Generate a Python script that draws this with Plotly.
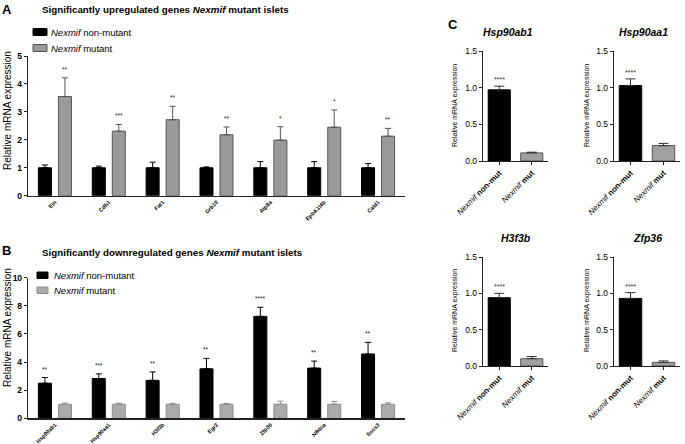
import plotly.graph_objects as go

W, H = 685, 444
FONT = "Arial, Liberation Sans, sans-serif"

# ---------------- data ----------------
up_genes = ["Eln", "Cdh1", "Fat1", "Grb10", "Atp8a", "Epb4.1l4b", "Cald1"]
up_ctrl = [1.0, 1.0, 1.0, 1.0, 1.0, 1.0, 1.0]
up_ctrl_err = [0.10, 0.06, 0.20, 0.03, 0.22, 0.22, 0.15]
up_mut = [3.55, 2.31, 2.72, 2.18, 1.99, 2.45, 2.13]
up_mut_err = [0.67, 0.24, 0.48, 0.28, 0.48, 0.62, 0.28]
up_sig = ["**", "***", "**", "**", "*", "*", "**"]

down_genes = ["Hsp90ab1", "Hsp90aa1", "H3f3b", "Egr2", "Zfp36", "Nfkbia", "Socs3"]
down_ctrl = [2.50, 2.83, 2.70, 3.52, 7.25, 3.57, 4.57]
down_ctrl_err = [0.40, 0.33, 0.60, 0.74, 0.65, 0.50, 0.83]
down_mut = [1.0, 1.0, 1.0, 1.0, 1.0, 1.0, 1.0]
down_mut_err = [0.08, 0.07, 0.07, 0.05, 0.22, 0.20, 0.10]
down_sig = ["**", "***", "**", "**", "****", "**", "**"]

c_genes = ["Hsp90ab1", "Hsp90aa1", "H3f3b", "Zfp36"]
c_groups = ["<i>Nexmif</i> <b>non-mut</b>", "<i>Nexmif</i> <b>mut</b>"]
c_ctrl = [0.97, 1.03, 0.94, 0.93]
c_ctrl_err = [0.05, 0.09, 0.06, 0.08]
c_mut = [0.11, 0.21, 0.10, 0.05]
c_mut_err = [0.01, 0.03, 0.03, 0.02]
c_sig = ["****", "****", "****", "****"]


def px(x):
    return x / W


def py(y):
    return 1 - y / H


fig = go.Figure()

BW = 0.242
OFF_BLACK = -0.307
OFF_GRAY = 0.065

# ---------------- panel A ----------------
fig.add_trace(go.Bar(
    x=list(range(len(up_genes))), y=up_ctrl, width=BW, offset=OFF_BLACK,
    marker=dict(color="black", line=dict(color="black", width=1)),
    error_y=dict(type="data", array=up_ctrl_err, arrayminus=[0] * 7, symmetric=False,
                 color="black", thickness=1, width=3),
    xaxis="x", yaxis="y", showlegend=False))
fig.add_trace(go.Bar(
    x=list(range(len(up_genes))), y=up_mut, width=BW, offset=OFF_GRAY,
    marker=dict(color="#9a9a9a", line=dict(color="#555555", width=1)),
    error_y=dict(type="data", array=up_mut_err, arrayminus=[0] * 7, symmetric=False,
                 color="#555555", thickness=1, width=3),
    xaxis="x", yaxis="y", showlegend=False))

# ---------------- panel B ----------------
fig.add_trace(go.Bar(
    x=list(range(len(down_genes))), y=down_ctrl, width=BW, offset=OFF_BLACK,
    marker=dict(color="black", line=dict(color="black", width=1)),
    error_y=dict(type="data", array=down_ctrl_err, arrayminus=[0] * 7, symmetric=False,
                 color="black", thickness=1, width=3),
    xaxis="x2", yaxis="y2", showlegend=False))
fig.add_trace(go.Bar(
    x=list(range(len(down_genes))), y=down_mut, width=BW, offset=OFF_GRAY,
    marker=dict(color="#ababab", line=dict(color="#8e8e8e", width=1)),
    error_y=dict(type="data", array=down_mut_err, arrayminus=[0] * 7, symmetric=False,
                 color="#8e8e8e", thickness=1, width=3),
    xaxis="x2", yaxis="y2", showlegend=False))

# ---------------- panel C ----------------
for i in range(4):
    ax = str(i + 3)
    fig.add_trace(go.Bar(
        x=[0, 1], y=[c_ctrl[i], c_mut[i]], width=0.68,
        marker=dict(color=["black", "#a0a0a0"], line=dict(color=["black", "#555555"], width=1)),
        error_y=dict(type="data", array=[c_ctrl_err[i], c_mut_err[i]], arrayminus=[0, 0],
                     symmetric=False, color="#333333", thickness=1, width=5),
        xaxis="x" + ax, yaxis="y" + ax, showlegend=False))

annotations = []
shapes = []

# stars A / B / C
for i in range(7):
    annotations.append(dict(x=i + OFF_GRAY + BW / 2, y=up_mut[i] + up_mut_err[i], xref="x", yref="y",
                            text=up_sig[i], yanchor="bottom", yshift=3,
                            font=dict(size=6.5, color="#222")))
    annotations.append(dict(x=i + OFF_BLACK + BW / 2, y=down_ctrl[i] + down_ctrl_err[i], xref="x2", yref="y2",
                            text=down_sig[i], yanchor="bottom", yshift=3,
                            font=dict(size=6.5, color="#222")))
for i in range(4):
    ax = str(i + 3)
    annotations.append(dict(x=0, y=c_ctrl[i] + c_ctrl_err[i], xref="x" + ax, yref="y" + ax,
                            text=c_sig[i], yanchor="bottom", yshift=1,
                            font=dict(size=7, color="#333")))

# titles, letters, axis titles, legend text
annotations += [
    dict(x=px(0), y=py(10), text="<b>A</b>", xanchor="left", font=dict(size=13)),
    dict(x=px(0), y=py(250), text="<b>B</b>", xanchor="left", font=dict(size=13)),
    dict(x=px(446), y=py(25), text="<b>C</b>", xanchor="left", font=dict(size=13)),
    dict(x=px(40), y=py(10), text="<b>Significantly upregulated genes <i>Nexmif</i> mutant islets</b>",
         xanchor="left", font=dict(size=9.8)),
    dict(x=px(40), y=py(252), text="<b>Significantly downregulated genes <i>Nexmif</i> mutant islets</b>",
         xanchor="left", font=dict(size=9.8)),
    dict(x=px(7), y=py(111), text="Relative mRNA expression", textangle=-90, font=dict(size=10)),
    dict(x=px(7), y=py(328), text="Relative mRNA expression", textangle=-90, font=dict(size=10)),
    dict(x=px(49), y=py(32), text="<i>Nexmif</i> non-mutant", xanchor="left", font=dict(size=9.5)),
    dict(x=px(49), y=py(48), text="<i>Nexmif</i> mutant", xanchor="left", font=dict(size=9.5)),
    dict(x=px(52), y=py(275), text="<i>Nexmif</i> non-mutant", xanchor="left", font=dict(size=9.5)),
    dict(x=px(52), y=py(290), text="<i>Nexmif</i> mutant", xanchor="left", font=dict(size=9.5)),
]
c_title_pos = [(508, 32), (643, 32), (516, 238), (647, 238)]
c_ytitle_pos = [(455, 106), (587, 106), (455, 311), (587, 311)]
for i in range(4):
    tx, ty = c_title_pos[i]
    annotations.append(dict(x=px(tx), y=py(ty), text="<b><i>" + c_genes[i] + "</i></b>",
                            font=dict(size=10.5)))
    yx, yy = c_ytitle_pos[i]
    annotations.append(dict(x=px(yx), y=py(yy), text="Relative mRNA expression", textangle=-90,
                            font=dict(size=7)))
for a in annotations:
    a.setdefault("xref", "paper")
    a.setdefault("yref", "paper")
    a.setdefault("xanchor", "center")
    a.setdefault("yanchor", "middle")
    a["showarrow"] = False
    a["font"].setdefault("family", FONT)
    a["font"].setdefault("color", "black")

# legend swatches
shapes += [
    dict(type="rect", xref="paper", yref="paper", x0=px(33), x1=px(47), y0=py(35.5), y1=py(28.5),
         fillcolor="black", line=dict(color="black", width=1)),
    dict(type="rect", xref="paper", yref="paper", x0=px(33), x1=px(47), y0=py(51.5), y1=py(44.5),
         fillcolor="#9a9a9a", line=dict(color="#555555", width=1)),
    dict(type="rect", xref="paper", yref="paper", x0=px(37), x1=px(48), y0=py(278.5), y1=py(272),
         fillcolor="black", line=dict(color="black", width=1)),
    dict(type="rect", xref="paper", yref="paper", x0=px(37), x1=px(48), y0=py(293.5), y1=py(287),
         fillcolor="#ababab", line=dict(color="#8e8e8e", width=1)),
]

ab_x = dict(showgrid=False, zeroline=False, showline=True, linecolor="#222", linewidth=1.2,
            range=[-0.5, 6.5], tickmode="array", tickvals=list(range(7)), tickangle=-45,
            ticks="", tickfont=dict(size=5.5, family=FONT, color="black", weight="bold"),
            automargin=False)
ab_y = dict(showgrid=False, zeroline=False, showline=True, linecolor="#222", linewidth=1.2,
            ticks="outside", ticklen=3, tickcolor="#222", automargin=False,
            tickfont=dict(size=8.5, family=FONT, color="black", weight="bold"))

layout = dict(
    width=W, height=H, margin=dict(l=0, r=0, t=0, b=0, pad=0, autoexpand=False),
    paper_bgcolor="white", plot_bgcolor="white", barmode="overlay", showlegend=False,
    font=dict(family=FONT, color="black"),
    annotations=annotations, shapes=shapes,
    xaxis=dict(ab_x, domain=[px(28), px(405)], ticktext=up_genes, anchor="y"),
    yaxis=dict(ab_y, domain=[py(195.7), py(56)], range=[0, 5.001], dtick=1, anchor="x"),
    xaxis2=dict(ab_x, domain=[px(28), px(405)], ticktext=down_genes, anchor="y2"),
    yaxis2=dict(ab_y, domain=[py(418.3), py(277.7)], range=[0, 10.002], dtick=2, anchor="x2"),
)
c_xdom = [(483, 548), (614, 680), (483, 548), (614, 680)]
c_ydom = [(161, 51), (161, 51), (366, 257), (366, 257)]
for i in range(4):
    n = str(i + 3)
    layout["xaxis" + n] = dict(domain=[px(c_xdom[i][0]), px(c_xdom[i][1])], range=[-0.5, 1.5],
                               showgrid=False, zeroline=False, showline=True, linecolor="#222",
                               linewidth=1.2, tickmode="array", tickvals=[0, 1], ticktext=c_groups,
                               tickangle=-45, ticks="outside", ticklen=3, tickcolor="#222",
                               automargin=False,
                               tickfont=dict(size=8, family=FONT, color="black"), anchor="y" + n)
    layout["yaxis" + n] = dict(domain=[py(c_ydom[i][0]), py(c_ydom[i][1])], range=[0, 1.5001], dtick=0.5,
                               tickformat=".1f", showgrid=False, zeroline=False, showline=True,
                               linecolor="#222", linewidth=1.2, ticks="outside", ticklen=3,
                               automargin=False,
                               tickcolor="#222", tickfont=dict(size=8.5, family=FONT, color="black"),
                               anchor="x" + n)

fig.update_layout(**layout)
fig.write_html("out.html", config={"displayModeBar": False, "staticPlot": True},
               post_script="document.body.style.margin='0px';")
